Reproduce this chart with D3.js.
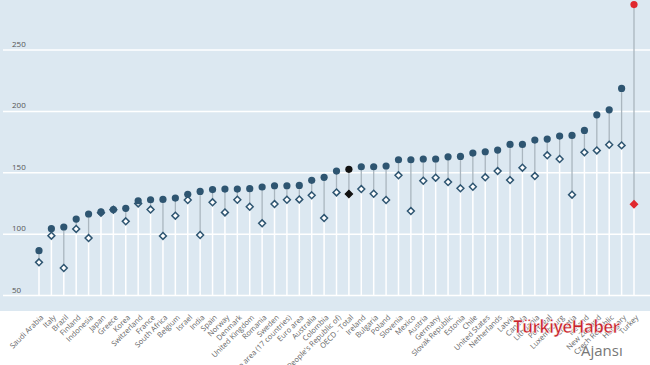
<!DOCTYPE html>
<html>
<head>
<meta charset="utf-8">
<script src="https://cdn.jsdelivr.net/npm/d3@7"></script>
<style>
  body { margin: 0; background: #fff; }
  text { font-family: "Open Sans", "DejaVu Sans", sans-serif; }
</style>
</head>
<body>
<script>
var width = 650, height = 365;

// categories, left to right
var countries = ["Saudi Arabia", "Italy", "Brazil", "Finland", "Indonesia", "Japan", "Greece",
  "Korea", "Switzerland", "France", "South Africa", "Belgium", "Israel", "India", "Spain",
  "Norway", "Denmark", "United Kingdom", "Romania", "Sweden", "Euro area (17 countries)",
  "Euro area", "Australia", "Colombia", "China (People's Republic of)", "OECD - Total",
  "Ireland", "Bulgaria", "Poland", "Slovenia", "Mexico", "Austria", "Germany",
  "Slovak Republic", "Estonia", "Chile", "United States", "Netherlands", "Latvia", "Canada",
  "Lithuania", "Portugal", "Luxembourg", "Croatia", "Iceland", "New Zealand",
  "Czech Republic", "Hungary", "Turkey"];

// upper value (filled circle)
var highValues = [86.5, 104.4, 105.8, 112.3, 116.4, 118.2, 120, 121, 127.2, 128, 128.3,
  129.4, 132.4, 134.8, 136.3, 136.7, 136.7, 137, 138.4, 139.4, 139.4, 139.7, 143.8, 146.3,
  151.4, 152.8, 154.9, 154.9, 155.5, 160.6, 160.6, 161.2, 161.2, 163, 163.3, 166, 167.1,
  168.5, 173.1, 173.1, 176.6, 177.4, 179.9, 180.4, 184.5, 197.2, 201.3, 218.7, 287];

// lower value (open diamond)
var lowValues = [77, 98.7, 72.4, 104.2, 96.8, 117.4, 119.8, 110.4, 125, 120, 98.5, 115,
  127.8, 99.3, 125.9, 117.7, 128, 122.3, 108.8, 124.5, 128, 128.3, 131.6, 113.1, 134,
  132.7, 136.7, 132.9, 127.8, 147.9, 118.8, 143.5, 146, 142.4, 137.3, 138.6, 146.3, 151.4,
  144, 154.1, 147.3, 164.2, 161.2, 132.1, 166.6, 168.2, 172.8, 172.3, 124.3];

var yTicks = [50, 100, 150, 200, 250];

var highlight = {"OECD - Total": "#111111", "Turkey": "#e0282e"};
var dotColor = "#2e5571";

var plotBottom = 311;

var svg = d3.select("body").append("svg")
    .attr("width", width)
    .attr("height", height);

var x = d3.scalePoint()
    .domain(countries)
    .range([39, 634]);

var y = d3.scaleLinear()
    .domain([50, 250])
    .range([295.5, 50]);

// background of plot
svg.append("rect")
    .attr("x", 0).attr("y", 0)
    .attr("width", width).attr("height", plotBottom)
    .attr("fill", "#dce8f1");

// gridlines
svg.selectAll("line.grid")
    .data(yTicks)
  .enter().append("line")
    .attr("class", "grid")
    .attr("x1", 3).attr("x2", width)
    .attr("y1", function(d){ return y(d); })
    .attr("y2", function(d){ return y(d); })
    .attr("stroke", "#ffffff")
    .attr("stroke-width", 1.5);

svg.selectAll("text.ytick")
    .data(yTicks)
  .enter().append("text")
    .attr("class", "ytick")
    .attr("x", 12)
    .attr("y", function(d){ return y(d) - 3; })
    .attr("font-size", 8)
    .attr("fill", "#555")
    .text(function(d){ return d; });

var rows = countries.map(function(c, i){
  return {name: c, hi: highValues[i], lo: lowValues[i]};
});

// white stems from the baseline to the lower marker
svg.selectAll("line.stem")
    .data(rows)
  .enter().append("line")
    .attr("class", "stem")
    .attr("x1", function(d){ return x(d.name); })
    .attr("x2", function(d){ return x(d.name); })
    .attr("y1", y(50))
    .attr("y2", function(d){ return y(Math.min(d.lo, d.hi)); })
    .attr("stroke", "#ffffff")
    .attr("stroke-width", 1.5);

// grey link between the two values
svg.selectAll("line.link")
    .data(rows)
  .enter().append("line")
    .attr("class", "link")
    .attr("x1", function(d){ return x(d.name); })
    .attr("x2", function(d){ return x(d.name); })
    .attr("y1", function(d){ return y(d.lo); })
    .attr("y2", function(d){ return y(d.hi); })
    .attr("stroke", "#aab6bf")
    .attr("stroke-width", 1.3);

var diamond = d3.symbol().type(d3.symbolDiamond2).size(30);

svg.selectAll("path.lo")
    .data(rows)
  .enter().append("path")
    .attr("class", "lo")
    .attr("d", diamond)
    .attr("transform", function(d){ return "translate(" + x(d.name) + "," + y(d.lo) + ")"; })
    .attr("fill", function(d){ return highlight[d.name] || "#ffffff"; })
    .attr("stroke", function(d){ return highlight[d.name] || dotColor; })
    .attr("stroke-width", 1.5);

svg.selectAll("circle.hi")
    .data(rows)
  .enter().append("circle")
    .attr("class", "hi")
    .attr("cx", function(d){ return x(d.name); })
    .attr("cy", function(d){ return y(d.hi); })
    .attr("r", 3.6)
    .attr("fill", function(d){ return highlight[d.name] || dotColor; });

// category labels
svg.selectAll("text.cat")
    .data(countries)
  .enter().append("text")
    .attr("class", "cat")
    .attr("text-anchor", "end")
    .attr("font-size", 7.5)
    .attr("fill", "#666")
    .attr("transform", function(d){ return "translate(" + (x(d) + 5) + "," + 318 + ") rotate(-45)"; })
    .text(function(d){ return d; });

// watermark
var wm = svg.append("g").attr("transform", "translate(513,333)");
wm.append("text")
    .attr("font-family", "Liberation Sans, sans-serif")
    .attr("font-weight", "bold")
    .attr("font-size", 17)
    .attr("fill", "#c8232a")
    .attr("stroke", "#ffffff")
    .attr("stroke-width", 0.6)
    .attr("letter-spacing", -0.8)
    .text("TürkiyeHaber");
wm.append("text")
    .attr("x", 68).attr("y", 23)
    .attr("font-family", "Liberation Serif, serif")
    .attr("font-size", 15)
    .attr("fill", "#777")
    .text("Ajansı");
</script>
</body>
</html>
